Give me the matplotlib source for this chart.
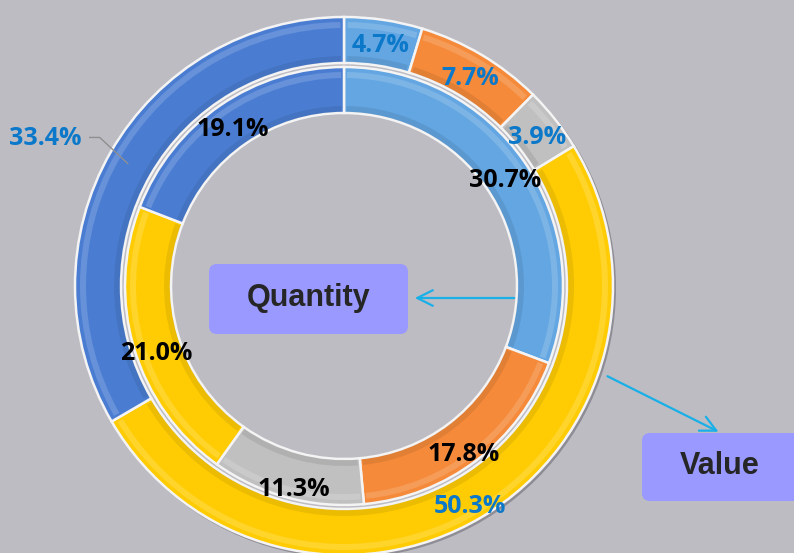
import matplotlib
matplotlib.use("Agg")
import matplotlib.pyplot as plt
import numpy as np
from matplotlib.patches import FancyBboxPatch, Wedge

# ---- data ----
segments = ["S1", "S2", "S3", "S4", "S5"]
value_pct = [4.7, 7.7, 3.9, 50.3, 33.4]        # outer ring (Value)
quantity_pct = [30.7, 17.8, 11.3, 21.0, 19.1]  # inner ring (Quantity)
ring_names = ["Quantity", "Value"]

colors = ["#63A6E2", "#F58A3A", "#C0C0C0", "#FFCC03", "#4A7DD2"]
bg = "#BDBCC3"
W, H = 794, 553

fig = plt.figure(figsize=(W / 100, H / 100), dpi=100, facecolor=bg)
ax = fig.add_axes([0, 0, 1, 1])
ax.set_facecolor(bg)

cx, cy = 344, H - 286
R_out, R_in = 269, 219
width = 46

# soft shadow behind the outer ring only
ax.pie([1], radius=R_out + 1, center=(cx + 2, cy - 2), colors=["#8E8D95"],
       wedgeprops=dict(width=8, linewidth=0), startangle=90)

wo, _ = ax.pie(value_pct, radius=R_out, center=(cx, cy), colors=colors,
               startangle=90, counterclock=False,
               wedgeprops=dict(width=width, edgecolor="#F4F4F4", linewidth=1.8))
wi, _ = ax.pie(quantity_pct, radius=R_in, center=(cx, cy), colors=colors,
               startangle=90, counterclock=False,
               wedgeprops=dict(width=width, edgecolor="#F4F4F4", linewidth=1.8))

# bevel highlights
for wedges, r in ((wo, R_out), (wi, R_in)):
    for w in wedges:
        t1, t2 = w.theta1, w.theta2
        ax.add_patch(Wedge((cx, cy), r - 5, t1 + 0.8, t2 - 0.8, width=6,
                           facecolor="white", alpha=0.16, linewidth=0))
        ax.add_patch(Wedge((cx, cy), r - width + 7, t1 + 0.8, t2 - 0.8, width=6,
                           facecolor="black", alpha=0.08, linewidth=0))


def label_positions(vals, r_mid):
    cum = 0.0
    pos = []
    for v in vals:
        mid = cum + v / 2
        ang = np.deg2rad(90 - mid / 100 * 360)
        pos.append((cx + r_mid * np.cos(ang), cy + r_mid * np.sin(ang), ang))
        cum += v
    return pos


lab_font = dict(fontfamily="Open Sans", fontweight="bold", fontsize=18)

# inner labels (black)
for (x, y, a), v in zip(label_positions(quantity_pct, R_in - width / 2), quantity_pct):
    dy = -4 - 5 * (1 - np.sin(a))
    ax.text(x, y + dy, f"{v:.1f}%", ha="center", va="center", color="black", **lab_font)

# outer labels (blue)
outer_pos = label_positions(value_pct, R_out - width / 2)
for i, ((x, y, a), v) in enumerate(zip(outer_pos, value_pct)):
    if i == len(value_pct) - 1:
        x0, y0 = x - 3, y
        ax.plot([x0, x0 - 28, x0 - 38], [y0, y0 + 26, y0 + 26],
                color="#8F8F8F", lw=1)
        ax.text(x0 - 46, y0 + 25, f"{v:.1f}%", ha="right", va="center",
                color="#0B78C9", **lab_font)
    else:
        dy = -3 - 3.5 * (1 - np.sin(a))
        ax.text(x, y + dy, f"{v:.1f}%", ha="center", va="center", color="#0B78C9", **lab_font)

# callout boxes
box_kw = dict(boxstyle="round,pad=0,rounding_size=8", facecolor="#9999FF",
              edgecolor="none")
ax.add_patch(FancyBboxPatch((209, H - 334), 199, 70, **box_kw))
ax.add_patch(FancyBboxPatch((642, H - 501), 170, 68, **box_kw))
name_font = dict(fontfamily="Liberation Sans", fontweight="bold", fontsize=22,
                 color="#262626")
ax.text(309, H - 298, ring_names[0], ha="center", va="center", **name_font)
ax.text(720, H - 466, ring_names[1], ha="center", va="center", **name_font)

arrow_kw = dict(arrowstyle="->", color="#19B0E8", lw=1.6, mutation_scale=28)
ax.annotate("", xy=(412, H - 298), xytext=(517, H - 298), arrowprops=arrow_kw)
ax.annotate("", xy=(721, H - 433), xytext=(605, H - 375), arrowprops=arrow_kw)

ax.set_xlim(0, W)
ax.set_ylim(0, H)
ax.set_aspect("auto")
ax.axis("off")

fig.savefig("out.png", dpi=100, facecolor=bg)
